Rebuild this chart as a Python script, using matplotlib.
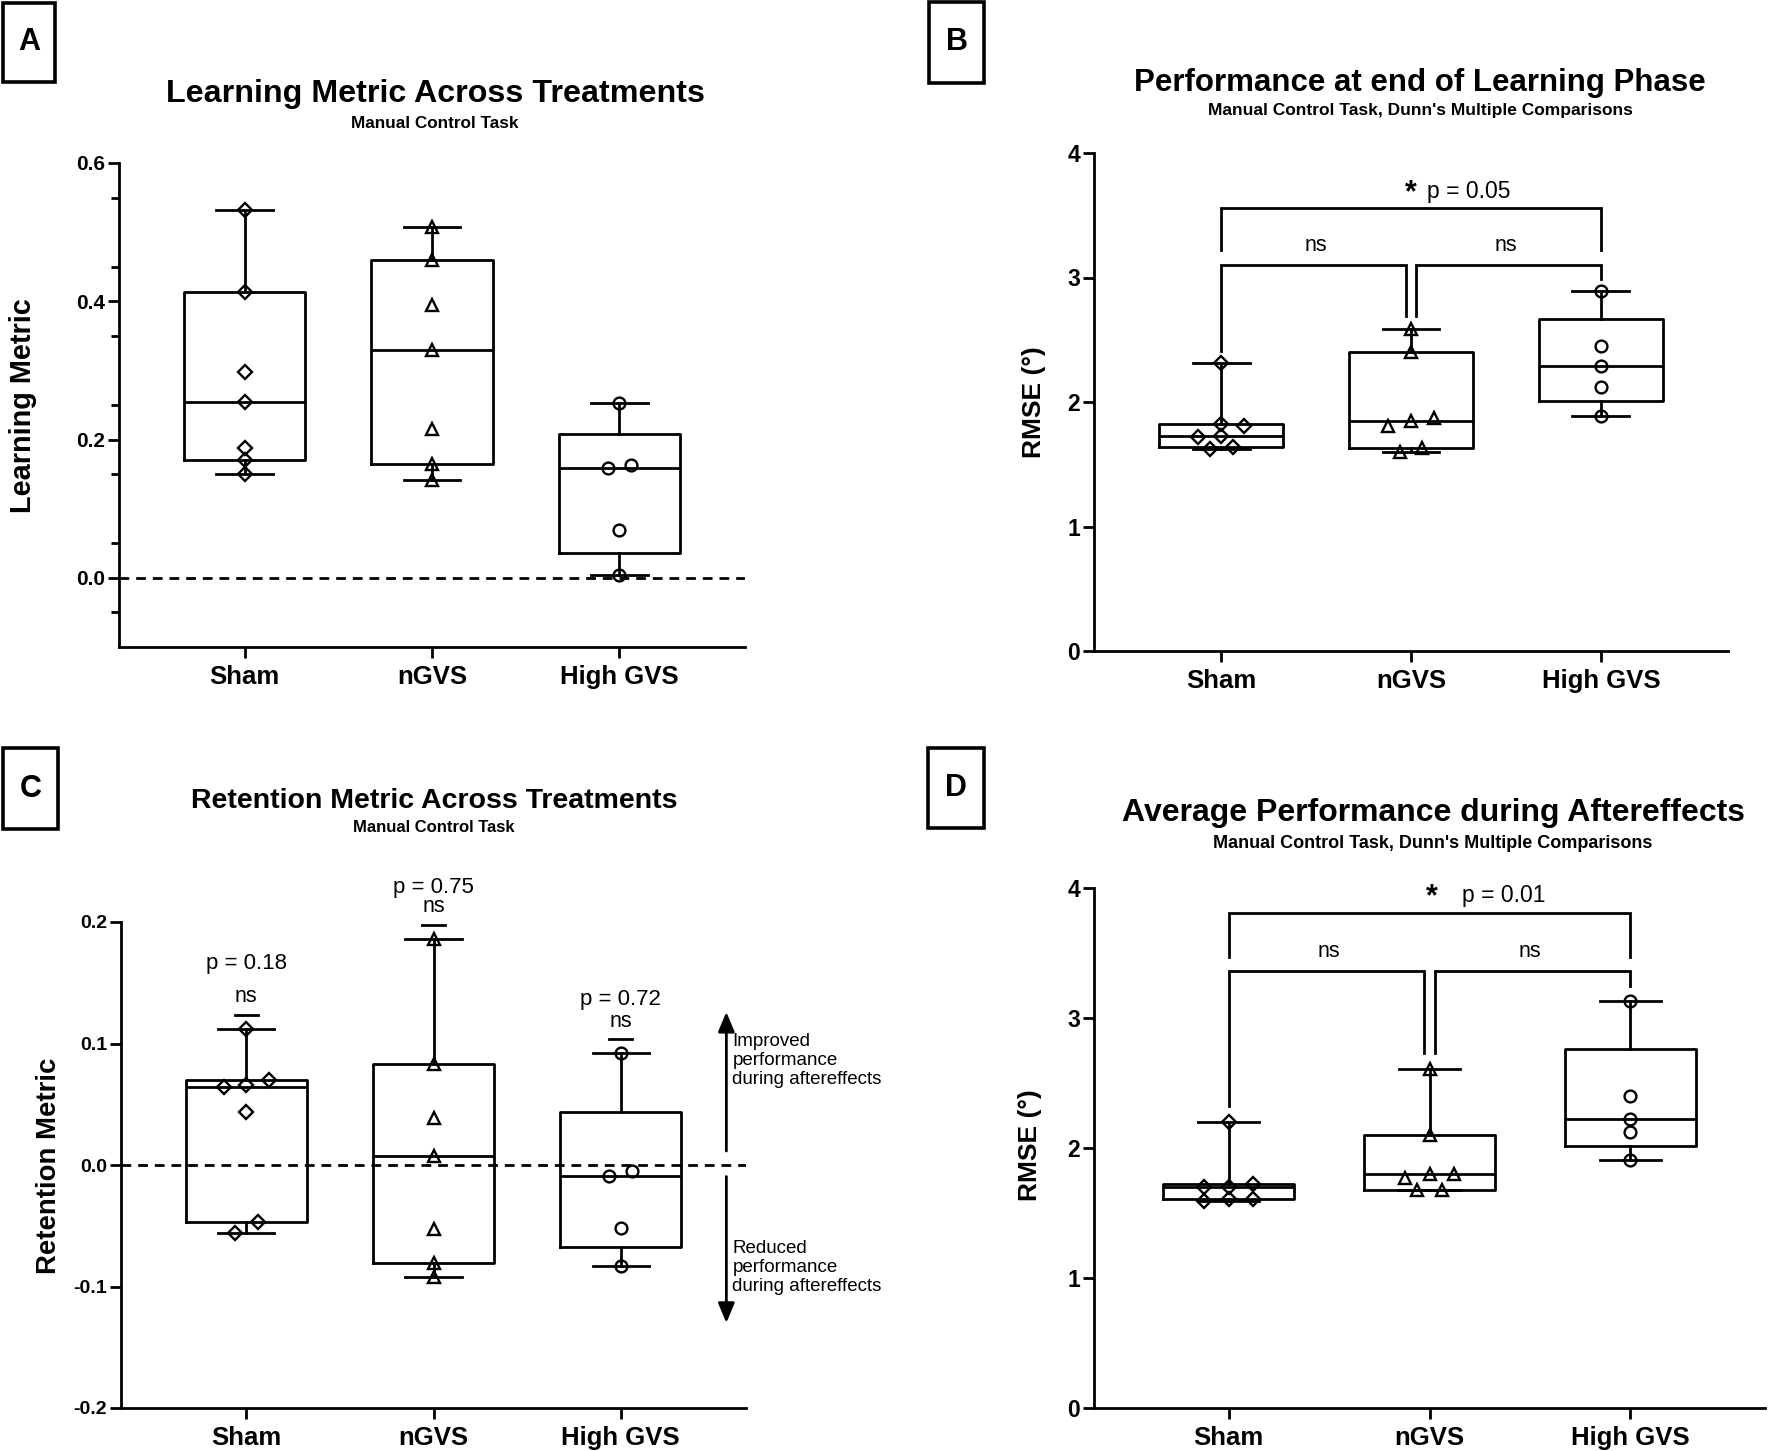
import matplotlib.pyplot as plt
from matplotlib.patches import Rectangle
import numpy as np

plt.rcParams['font.family'] = ['Liberation Sans', 'DejaVu Sans']

# ---- data ----
groups = ['Sham', 'nGVS', 'High GVS']
markers = ['D', '^', 'o']

# A: learning metric
learn_sham = [0.532, 0.413, 0.298, 0.255, 0.188, 0.171, 0.150]
learn_ngvs = [0.508, 0.459, 0.394, 0.330, 0.215, 0.165, 0.142]
learn_high = [0.253, 0.163, 0.159, 0.069, 0.004]

# B: RMSE at end of learning phase
rmse_learn_sham = [2.31, 1.82, 1.81, 1.73, 1.72, 1.64, 1.62]
rmse_learn_ngvs = [2.59, 2.40, 1.87, 1.85, 1.81, 1.63, 1.60]
rmse_learn_high = [2.89, 2.45, 2.29, 2.12, 1.89]

# C: retention metric
ret_sham = [0.112, 0.070, 0.066, 0.064, 0.044, -0.047, -0.056]
ret_ngvs = [0.186, 0.083, 0.039, 0.007, -0.053, -0.081, -0.092]
ret_high = [0.092, -0.005, -0.009, -0.052, -0.083]
ret_pvals = ['p = 0.18', 'p = 0.75', 'p = 0.72']

# D: RMSE during aftereffects
rmse_after_sham = [2.20, 1.726, 1.70, 1.70, 1.61, 1.61, 1.59]
rmse_after_ngvs = [2.61, 2.10, 1.80, 1.80, 1.77, 1.68, 1.68]
rmse_after_high = [3.13, 2.40, 2.22, 2.12, 1.91]

W, H = 1772, 1451
fig = plt.figure(figsize=(W / 100, H / 100), dpi=100)


def add_ax(left, top, right, bottom):
    return fig.add_axes([left / W, 1 - bottom / H, (right - left) / W, (bottom - top) / H])


def ftext(x, y, s, **kw):
    fig.text(x / W, 1 - y / H, s, ha=kw.pop('ha', 'center'), va=kw.pop('va', 'center'), **kw)


def panel_label(x0, y0, x1, y1, letter):
    fig.add_artist(Rectangle((x0 / W, 1 - y1 / H), (x1 - x0) / W, (y1 - y0) / H,
                             transform=fig.transFigure, fill=False, lw=2.6, color='k'))
    ftext((x0 + x1) / 2, (y0 + y1) / 2, letter, fontsize=22, fontweight='bold')


def style_axis(ax, ylim, yticks, fmt, ytick_fs):
    ax.set_xlim(-0.67, 2.67)
    ax.set_ylim(*ylim)
    for s in ['top', 'right']:
        ax.spines[s].set_visible(False)
    for s in ['left', 'bottom']:
        ax.spines[s].set_linewidth(2)
    ax.set_xticks(range(3))
    ax.set_xticklabels(groups, fontsize=18.5, fontweight='bold')
    ax.set_yticks(yticks)
    ax.set_yticklabels([fmt.format(t) for t in yticks], fontsize=ytick_fs, fontweight='bold')
    ax.tick_params(axis='both', width=2, length=8)
    ax.tick_params(axis='x', pad=5)
    ax.tick_params(axis='y', pad=2)


def swarm(ax, vals, center, step=0.12, thresh=11.5):
    # spread points that would overlap on screen into symmetric rows
    to_px = lambda v: ax.transData.transform((0, v))[1]
    rows = []
    for v in sorted(vals):
        if rows and abs(to_px(v) - to_px(rows[-1][0])) < thresh:
            rows[-1].append(v)
        else:
            rows.append([v])
    xs, ys = [], []
    for row in rows:
        k = len(row)
        for i, v in enumerate(row):
            xs.append(center + (i - (k - 1) / 2) * step)
            ys.append(v)
    return xs, ys


def draw_boxes(ax, data):
    stats = []
    for vals in data:
        v = np.asarray(vals)
        q1, med, q3 = np.percentile(v, [25, 50, 75], method='weibull')
        stats.append(dict(med=med, q1=q1, q3=q3, whislo=v.min(), whishi=v.max(), fliers=[]))
    lp = dict(lw=2, color='k')
    ax.bxp(stats, positions=range(3), widths=0.65, capwidths=0.3, showfliers=False,
           boxprops=lp, whiskerprops=lp, capprops=lp, medianprops=lp, manage_ticks=False)
    for i, vals in enumerate(data):
        xs, ys = swarm(ax, vals, i)
        ms = 7 if markers[i] == 'D' else 8.5
        ax.plot(xs, ys, ls='none', marker=markers[i], ms=ms, mfc='none', mec='k', mew=1.7,
                zorder=5, clip_on=False)


def bracket(ax, x0, x1, y, y0, y1):
    ax.plot([x0, x0, x1, x1], [y0, y, y, y1], color='k', lw=2, clip_on=False,
            solid_joinstyle='miter')


# ---- A ----
axA = add_ax(119, 163, 745, 647)
style_axis(axA, (-0.1, 0.6), [0.0, 0.2, 0.4, 0.6], '{:.1f}', 15)
axA.set_yticks(np.arange(-0.05, 0.6, 0.1), minor=True)
axA.tick_params(axis='y', which='minor', width=2, length=6)
axA.axhline(0, color='k', lw=2, ls=(0, (3.5, 2.5)))
draw_boxes(axA, [learn_sham, learn_ngvs, learn_high])
panel_label(3, 3, 55, 82, 'A')
ftext(435, 94, 'Learning Metric Across Treatments', fontsize=23.2, fontweight='bold')
ftext(435, 123, 'Manual Control Task', fontsize=12.3, fontweight='bold')
ftext(23, 406, 'Learning Metric', fontsize=20.8, fontweight='bold', rotation=90)

# ---- B ----
axB = add_ax(1094, 153, 1728, 651)
style_axis(axB, (0, 4), [0, 1, 2, 3, 4], '{:d}', 16.5)
learn_data = [rmse_learn_sham, rmse_learn_ngvs, rmse_learn_high]
draw_boxes(axB, learn_data)
tops = [max(v) + 0.1 for v in learn_data]
bracket(axB, 0, 2, 3.56, 3.22, 3.22)
bracket(axB, 0, 1 - 0.025, 3.10, tops[0], tops[1])
bracket(axB, 1 + 0.025, 2, 3.10, tops[1], tops[2])
axB.text(0.5, 3.26, 'ns', ha='center', va='center', fontsize=15.5)
axB.text(1.5, 3.26, 'ns', ha='center', va='center', fontsize=15.5)
axB.text(1.0, 3.68, '*', ha='center', va='center', fontsize=22, fontweight='bold')
axB.text(1.085, 3.69, 'p = 0.05', ha='left', va='center', fontsize=16.5)
panel_label(929, 2, 984, 83, 'B')
ftext(1420, 83, 'Performance at end of Learning Phase', fontsize=22.5, fontweight='bold')
ftext(1420, 111, "Manual Control Task, Dunn's Multiple Comparisons", fontsize=12.5,
      fontweight='bold')
ftext(1034, 402, 'RMSE (°)', fontsize=19, fontweight='bold', rotation=90)

# ---- C ----
axC = add_ax(121, 922, 746, 1408)
style_axis(axC, (-0.2, 0.2), [-0.2, -0.1, 0.0, 0.1, 0.2], '{:.1f}', 14)
axC.axhline(0, color='k', lw=2, ls=(0, (3.5, 2.5)))
ret_data = [ret_sham, ret_ngvs, ret_high]
draw_boxes(axC, ret_data)
p_offset = [0.042, 0.031, 0.033]
for i, vals in enumerate(ret_data):
    y = max(vals) + 0.0115
    axC.plot([i - 0.062, i + 0.062], [y, y], color='k', lw=2, clip_on=False)
    axC.text(i, y + 0.015, 'ns', ha='center', va='center', fontsize=15.5)
    axC.text(i, y + p_offset[i], ret_pvals[i], ha='center', va='center', fontsize=16)
arrow = dict(arrowstyle='-|>,head_length=0.6,head_width=0.25', lw=2, color='k',
             mutation_scale=20, shrinkA=0, shrinkB=0)
axC.annotate('', xy=(2.565, 0.126), xytext=(2.565, 0.0115), arrowprops=arrow,
             annotation_clip=False)
axC.annotate('', xy=(2.565, -0.13), xytext=(2.565, -0.0095), arrowprops=arrow,
             annotation_clip=False)
axC.text(2.597, 0.086, 'Improved\nperformance\nduring aftereffects', ha='left', va='center',
         fontsize=13.5, linespacing=1.15)
axC.text(2.597, -0.084, 'Reduced\nperformance\nduring aftereffects', ha='left', va='center',
         fontsize=13.5, linespacing=1.15)
panel_label(3, 748, 58, 829, 'C')
ftext(434, 801, 'Retention Metric Across Treatments', fontsize=20.5, fontweight='bold')
ftext(434, 827, 'Manual Control Task', fontsize=12, fontweight='bold')
ftext(49, 1166, 'Retention Metric', fontsize=19.8, fontweight='bold', rotation=90)

# ---- D ----
axD = add_ax(1094, 888, 1765, 1408)
style_axis(axD, (0, 4), [0, 1, 2, 3, 4], '{:d}', 16.5)
after_data = [rmse_after_sham, rmse_after_ngvs, rmse_after_high]
draw_boxes(axD, after_data)
tops = [max(v) + 0.12 for v in after_data]
bracket(axD, 0, 2, 3.81, 3.47, 3.47)
bracket(axD, 0, 1 - 0.025, 3.36, tops[0], tops[1])
bracket(axD, 1 + 0.025, 2, 3.36, tops[1], tops[2])
axD.text(0.5, 3.51, 'ns', ha='center', va='center', fontsize=15.5)
axD.text(1.5, 3.51, 'ns', ha='center', va='center', fontsize=15.5)
axD.text(1.01, 3.93, '*', ha='center', va='center', fontsize=22, fontweight='bold')
axD.text(1.16, 3.94, 'p = 0.01', ha='left', va='center', fontsize=16.5)
panel_label(928, 748, 984, 828, 'D')
ftext(1433, 813, 'Average Performance during Aftereffects', fontsize=23, fontweight='bold')
ftext(1433, 844, "Manual Control Task, Dunn's Multiple Comparisons", fontsize=13,
      fontweight='bold')
ftext(1030, 1145, 'RMSE (°)', fontsize=19, fontweight='bold', rotation=90)

fig.savefig('out.png', dpi=100)
